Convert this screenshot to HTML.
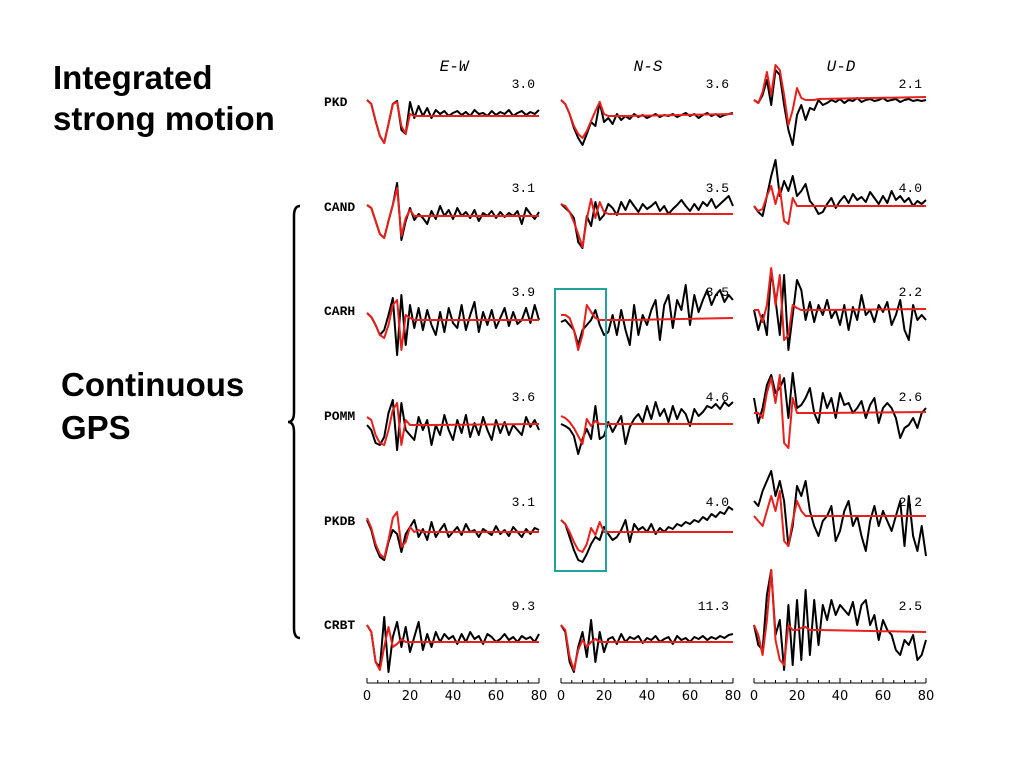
<!DOCTYPE html>
<html><head><meta charset="utf-8"><style>
body{margin:0;background:#fff;width:1024px;height:768px;overflow:hidden}
svg{display:block}
.big{font-family:"Liberation Sans",sans-serif;font-weight:bold;font-size:33px;fill:#000}
.st{font-family:"Liberation Mono",monospace;font-weight:bold;font-size:13px}
.num{font-family:"Liberation Mono",monospace;font-size:13px}
.ct{font-family:"Liberation Mono",monospace;font-style:italic;font-size:16px}
.tk{font-family:"DejaVu Sans",sans-serif;font-size:13px}
</style></head><body>
<svg id="fig" width="1024" height="768">
<text class="big" x="53" y="89">Integrated</text>
<text class="big" x="53" y="130">strong motion</text>
<text class="big" x="61" y="396">Continuous</text>
<text class="big" x="61" y="439">GPS</text>
<path d="M300,206 Q294,206 294,216 L294,412 Q294,422 288,422 Q294,422 294,432 L294,628 Q294,638 300,638" fill="none" stroke="#000" stroke-width="2.5"/>
<text class="ct" x="454" y="71" text-anchor="middle">E-W</text>
<text class="ct" x="648" y="71" text-anchor="middle">N-S</text>
<text class="ct" x="841" y="71" text-anchor="middle">U-D</text>
<g id="plots"></g>
<rect x="555" y="289" width="51" height="282" fill="none" stroke="#1fa39a" stroke-width="2"/>
</svg>
<script>
const stations=["PKD","CAND","CARH","POMM","PKDB","CRBT"];
const amps=[["3.0","3.6","2.1"],["3.1","3.5","4.0"],["3.9","3.5","2.2"],["3.6","4.6","2.6"],["3.1","4.0","2.2"],["9.3","11.3","2.5"]];
const blackTimes=[0,2,4,6,8,10,12,14,16,18,20,22,24,26,28,30,32,34,36,38,40,42,44,46,48,50,52,54,56,58,60,62,64,66,68,70,72,74,76,78,80];
const redTimes=[0,2,4,6,8,10,12,14,16,18,20,22,24,26,28,30,80];
const xTicks=[0,20,40,60,80];
const pkd_ew_b=[16,12,-5,-20,-27,-8,12,15,-14,-18,14,-2,10,0,8,-2,6,2,5,0,3,5,1,4,0,6,2,3,0,5,1,4,2,6,0,3,5,1,4,2,6];
const pkd_ew_r=[16,12,-5,-20,-27,-8,12,14,-10,-18,2,0,0,0,0,0,0];
const pkd_ns_b=[16,12,2,-12,-22,-29,-18,-6,-10,14,-6,-2,-8,2,-4,0,-3,2,-1,1,-2,0,2,-1,1,0,2,-1,1,3,0,2,-2,1,3,0,2,-1,1,2,3];
const pkd_ns_r=[16,12,2,-10,-18,-22,-15,-5,5,14,2,0,0,0,0,0,2];
const pkd_ud_b=[0,-3,5,20,-5,30,25,-5,-30,-45,-15,-5,-20,-8,-10,0,-5,-3,0,-2,1,-3,0,-1,2,-2,0,1,-1,0,2,-1,0,1,-2,0,1,-1,0,-1,0];
const pkd_ud_r=[0,-3,8,28,5,35,30,5,-25,-10,12,2,0,0,0,1,3];
const cand_ew_b=[11,8,-5,-18,-22,-5,11,33,-24,-5,8,-4,2,-2,-8,5,-3,10,0,6,-3,8,0,4,-2,6,-5,3,0,5,-2,4,-1,3,0,5,-8,8,2,-3,4];
const cand_ew_r=[11,8,-5,-18,-22,-5,11,28,-20,-2,6,0,0,0,0,0,0];
const cand_ns_b=[10,6,2,-4,-28,-34,-2,-12,12,-6,-1,10,6,-1,12,4,14,8,2,10,5,8,12,3,8,0,5,9,14,8,3,10,4,12,8,15,6,10,14,18,8];
const cand_ns_r=[10,8,2,-8,-20,-33,-5,15,-4,12,2,0,0,0,0,0,0];
const cand_ud_b=[0,-6,-10,10,30,46,10,25,15,30,10,15,22,5,0,-8,-6,2,8,-2,5,10,3,12,6,9,4,14,8,2,10,3,15,6,10,4,8,0,5,2,6];
const cand_ud_r=[0,-5,-3,10,20,2,18,-15,-18,8,0,0,0,0,0,0,0];
const carh_ew_b=[7,3,-5,-15,-10,5,22,-35,25,-25,15,-8,12,-10,10,-5,-15,8,-12,12,-3,-8,15,-10,5,18,-12,8,-5,10,-8,2,12,-6,8,-4,0,12,-3,15,0];
const carh_ew_r=[7,3,-5,-15,-18,-5,15,20,-30,5,2,0,0,0,0,0,0];
const carh_ns_b=[-2,0,-5,-10,-25,-10,-5,0,10,-5,-15,-12,5,-15,10,-10,-25,15,-15,5,-5,10,20,-20,15,25,-8,20,10,35,-5,25,8,20,30,15,25,30,18,25,20];
const carh_ns_r=[5,5,2,-10,-30,-15,15,8,2,0,0,0,0,0,0,0,2];
const carh_ud_b=[0,-20,-5,-25,40,10,-25,35,-40,-5,30,20,-10,8,-12,5,-5,10,-8,0,-15,5,-20,3,-10,15,-5,0,-12,5,-2,8,-15,-5,10,-20,-30,5,-10,-5,-10];
const carh_ud_r=[0,0,-12,5,42,5,35,-30,-25,5,2,0,0,0,0,0,1];
const pomm_ew_b=[0,-5,-18,-20,-12,12,25,-25,22,-5,-10,-15,8,-5,5,-20,0,-10,10,-5,-15,5,-8,10,-12,2,-10,8,-5,-15,5,-8,3,-10,0,-5,-10,8,-2,5,-5];
const pomm_ew_r=[8,5,-10,-18,-20,-5,15,22,-20,5,0,0,0,0,0,0,1];
const pomm_ns_b=[0,-2,-5,-12,-30,-15,-5,-15,18,-15,-12,2,-8,0,8,-20,-3,5,10,2,18,5,22,8,15,2,18,5,15,10,-2,15,8,12,18,16,20,15,22,18,22];
const pomm_ns_r=[8,6,2,-4,-12,-20,5,-2,3,0,0,0,0,0,0,0,0];
const pomm_ud_b=[15,-10,5,28,38,20,25,35,-5,40,5,8,15,25,0,-10,20,5,15,-5,20,8,10,0,5,12,-5,8,15,-10,5,10,5,-5,-25,-15,-12,-5,-15,0,5];
const pomm_ud_r=[0,0,-5,20,35,10,38,-30,-35,15,0,0,0,0,0,0,1];
const pkdb_ew_b=[12,2,-15,-25,-28,-10,2,-2,-20,-2,5,12,-5,3,-8,10,-5,2,8,-5,0,5,-3,8,0,2,-5,3,0,-3,6,-2,2,-4,5,0,-5,3,-2,4,2];
const pkdb_ew_r=[14,4,-12,-22,-26,-8,14,20,-15,-10,5,0,2,0,0,0,0];
const pkdb_ns_b=[12,8,-5,-18,-28,-30,-22,-12,-5,-8,5,-2,-8,-5,2,12,-10,8,2,5,0,8,-2,4,0,5,3,8,6,10,8,12,10,15,12,18,15,20,18,25,22];
const pkdb_ns_r=[12,8,0,-10,-18,-20,-12,4,-3,10,0,0,0,0,0,0,0];
const pkdb_ud_b=[15,10,25,35,45,20,35,15,-30,-10,30,20,35,5,-10,-20,-5,0,10,-25,-15,5,15,-10,0,-20,-35,-5,10,-10,5,-5,-15,0,15,-30,20,-20,-35,-10,-40];
const pkdb_ud_r=[0,-5,-10,5,20,5,25,-25,-30,-5,15,5,0,0,0,0,0];
const crbt_ew_b=[17,10,-20,-25,25,-30,5,20,-5,15,-10,5,20,-8,8,-5,10,0,8,3,6,-2,8,0,10,3,6,-2,8,5,0,3,8,2,5,0,6,3,5,0,8];
const crbt_ew_r=[17,10,-20,-28,-5,15,-5,-2,3,0,0,0,0,0,0,0,0];
const crbt_ns_b=[17,10,-20,-30,-5,10,-15,22,-20,10,-10,3,5,-2,8,0,5,3,6,-1,4,2,6,0,3,5,-2,6,2,4,0,5,3,6,2,5,3,6,4,7,8];
const crbt_ns_r=[17,12,-15,-28,-8,2,-5,0,3,0,0,0,0,0,0,0,0];
const crbt_ud_b=[5,-15,-20,35,60,-5,10,-40,25,-35,30,-30,40,-25,30,-15,25,10,30,15,25,20,15,28,5,25,30,5,15,-10,10,0,-5,-20,-25,-10,-15,-5,-30,-25,-10];
const crbt_ud_r=[5,-5,-25,10,60,-10,-30,-35,5,0,0,2,3,0,0,0,-2];

const series=[
 [[pkd_ew_b,pkd_ew_r],[pkd_ns_b,pkd_ns_r],[pkd_ud_b,pkd_ud_r]],
 [[cand_ew_b,cand_ew_r],[cand_ns_b,cand_ns_r],[cand_ud_b,cand_ud_r]],
 [[carh_ew_b,carh_ew_r],[carh_ns_b,carh_ns_r],[carh_ud_b,carh_ud_r]],
 [[pomm_ew_b,pomm_ew_r],[pomm_ns_b,pomm_ns_r],[pomm_ud_b,pomm_ud_r]],
 [[pkdb_ew_b,pkdb_ew_r],[pkdb_ns_b,pkdb_ns_r],[pkdb_ud_b,pkdb_ud_r]],
 [[crbt_ew_b,crbt_ew_r],[crbt_ns_b,crbt_ns_r],[crbt_ud_b,crbt_ud_r]]];

const NS="http://www.w3.org/2000/svg";
const g=document.getElementById('plots');
const colX=[367,561,754], colW=172;
const rowBase=[[116,116,100],[216,214,206],[320,320,310],[425,424,413],[532,532,516],[642,642,630]];
const labelY=[106,211,315,420,525,629];
const numY=[88,192,296,401,506,610];
const axisY=683;
function xs(c,t){return colX[c]+t/80*colW;}
function ys(r,c,v){return rowBase[r][c]-v;}
function mk(tag,attrs){const e=document.createElementNS(NS,tag);for(const k in attrs)e.setAttribute(k,attrs[k]);g.appendChild(e);return e;}
const comps=["ew","ns","ud"];
for(let r=0;r<6;r++){
 const t=mk('text',{x:324,y:labelY[r],class:'st'});t.textContent=stations[r];
 
 
 for(let c=0;c<3;c++){
  const n=mk('text',{x:colX[c]+colW-4,y:numY[r],class:'num','text-anchor':'end'});n.textContent=amps[r][c];
  
  
  const b=series[r][c][0], rd=series[r][c][1];
  const pb=b.map((v,i)=>xs(c,blackTimes[i]).toFixed(1)+','+ys(r,c,v).toFixed(1)).join(' ');
  const pr=rd.map((v,i)=>xs(c,redTimes[i]).toFixed(1)+','+ys(r,c,v).toFixed(1)).join(' ');
  const lb=mk('polyline',{points:pb,fill:'none',stroke:'#000','stroke-width':2,'stroke-linejoin':'round'});
  
  
  const lr=mk('polyline',{points:pr,fill:'none',stroke:'#e8201c','stroke-width':2,'stroke-linejoin':'round'});
  
  
 }
}
for(let c=0;c<3;c++){
 const ax=mk('line',{x1:xs(c,0),x2:xs(c,80),y1:axisY,y2:axisY,stroke:'#000','stroke-width':1});
 
 
 for(let t=0;t<=80;t+=5){
  const major=xTicks.includes(t);
  mk('line',{x1:xs(c,t),x2:xs(c,t),y1:axisY,y2:axisY-(major?5:3),stroke:'#000','stroke-width':1});
 }
 xTicks.forEach(v=>{
  const tl=mk('text',{x:xs(c,v),y:axisY+17,class:'tk','text-anchor':'middle'});tl.textContent=v;
  
  
 });
}
</script>
</body></html>
